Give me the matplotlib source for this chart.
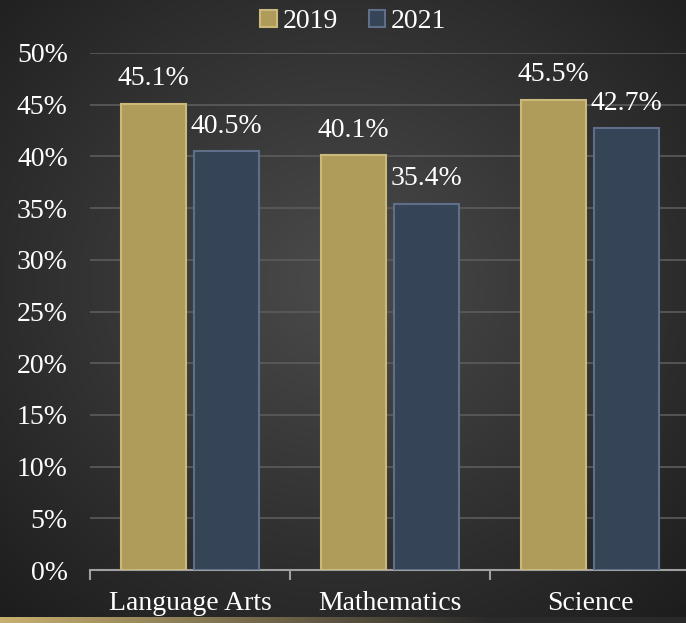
import numpy as np
import matplotlib
matplotlib.use("Agg")
import matplotlib.pyplot as plt

categories = ["Language Arts", "Mathematics", "Science"]
series_names = ["2019", "2021"]
values_2019 = [45.1, 40.1, 45.5]
values_2021 = [40.5, 35.4, 42.7]
yticks = [0, 5, 10, 15, 20, 25, 30, 35, 40, 45, 50]

W, H, DPI = 686, 623, 100
fig = plt.figure(figsize=(W / DPI, H / DPI), dpi=DPI)
plt.rcParams['font.family'] = ['Liberation Serif', 'DejaVu Serif']
FS = 20

# background radial gradient
bg = fig.add_axes([0, 0, 1, 1], zorder=-10)
yy, xx = np.mgrid[0:H, 0:W]
cx, cy = W * 0.5, H * 0.45
r = np.sqrt(((xx - cx) / (W * 0.75)) ** 2 + ((yy - cy) / (H * 0.75)) ** 2)
r = np.clip(r, 0, 1)
inner = np.array([0x4b, 0x4b, 0x4b]) / 255
outer = np.array([0x1c, 0x1c, 0x1c]) / 255
img = inner[None, None, :] * (1 - r[..., None]) + outer[None, None, :] * r[..., None]
# bottom gold strip
strip_h = 6
t = np.linspace(0, 1, W)
gold = np.array([0xc8, 0xb0, 0x70]) / 255
dark = np.array([0x2a, 0x2a, 0x2a]) / 255
w = np.clip(1 - t * 1.4, 0, 1)[:, None]
img[H - strip_h:, :, :] = (gold * w + dark * (1 - w))[None, :, :]
bg.imshow(img, aspect='auto', extent=[0, 1, 0, 1], origin='upper')
bg.axis('off')

x0 = 90 / W
ax = fig.add_axes([x0, (H - 570) / H, 600 / W, (570 - 53) / H])
ax.set_facecolor('none')
x = np.arange(len(categories))
bw = 0.325
off = 0.183
b1 = ax.bar(x - off, values_2019, bw, color='#b09c5a', edgecolor='#cbb97c', linewidth=1.5, label=series_names[0], zorder=3)
b2 = ax.bar(x + off, values_2021, bw, color='#364457', edgecolor='#5f6f8a', linewidth=1.5, label=series_names[1], zorder=3)

for bars, vals in ((b1, values_2019), (b2, values_2021)):
    for rect, v in zip(bars, vals):
        ax.annotate(f"{v:.1f}%", (rect.get_x() + rect.get_width() / 2, v),
                    xytext=(0, 9), textcoords='offset points', ha='center', va='bottom',
                    color='white', fontsize=FS)

ax.set_xlim(-0.5, 2.5)
ax.set_ylim(0, 50)
ax.set_yticks(yticks)
ax.set_yticklabels([f"{v}%" for v in yticks], color='white', fontsize=FS)
ax.yaxis.grid(True, color='#5c5c5c', linewidth=1.2, zorder=0)
ax.set_axisbelow(True)
ax.tick_params(axis='y', length=0, pad=16)

ax.set_xticks(x)
ax.set_xticklabels(categories, color='white', fontsize=FS)
ax.tick_params(axis='x', length=0, pad=15)
ax.set_xticks([-0.5, 0.5, 1.5, 2.5], minor=True)
ax.tick_params(axis='x', which='minor', length=7, width=1.5, color='#a0a0a0', direction='out')

for s in ('top', 'right', 'left'):
    ax.spines[s].set_visible(False)
ax.spines['bottom'].set_color('#a0a0a0')
ax.spines['bottom'].set_linewidth(1.5)

leg = fig.legend(handles=[b1, b2], labels=series_names, loc='upper center',
                 bbox_to_anchor=(0.515, 1.025), ncol=2, frameon=False,
                 fontsize=FS, labelcolor='white', handlelength=0.6, handleheight=0.6,
                 handletextpad=0.2, columnspacing=1.1)

fig.savefig("out.png", dpi=DPI)
